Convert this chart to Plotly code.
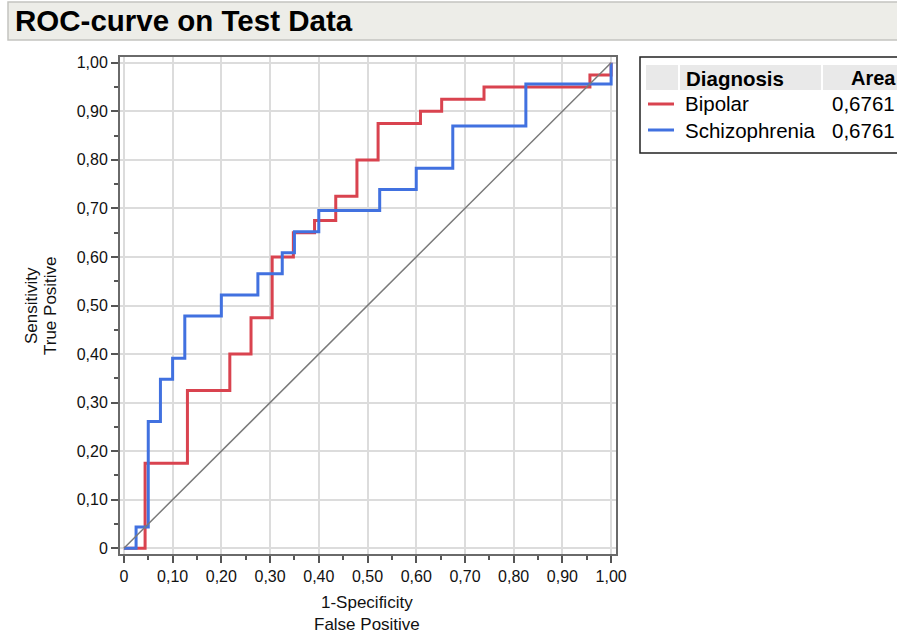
import plotly.graph_objects as go

# ---- data ----
tick_vals = [0.0, 0.1, 0.2, 0.3, 0.4, 0.5, 0.6, 0.7, 0.8, 0.9, 1.0]
tick_text = ["0", "0,10", "0,20", "0,30", "0,40", "0,50", "0,60", "0,70", "0,80", "0,90", "1,00"]

fpr_bipolar = [0, 0.0435, 0.1304, 0.2174, 0.2609, 0.3043, 0.3478, 0.3913, 0.4348, 0.4783,
               0.5217, 0.6087, 0.6522, 0.7391, 0.9565, 1.0]
tpr_bipolar = [0, 0.175, 0.325, 0.400, 0.475, 0.600, 0.650, 0.675, 0.725, 0.800,
               0.875, 0.900, 0.925, 0.950, 0.975, 1.0]

fpr_schizo = [0, 0.025, 0.05, 0.075, 0.1, 0.125, 0.2, 0.275, 0.325, 0.35, 0.4,
              0.525, 0.6, 0.675, 0.825, 1.0]
tpr_schizo = [0, 0.0435, 0.2609, 0.3478, 0.3913, 0.4783, 0.5217, 0.5652, 0.6087, 0.6522, 0.6957,
              0.7391, 0.7826, 0.8696, 0.9565, 1.0]

diag_x = [0, 1]
diag_y = [0, 1]

legend_names = ["Bipolar", "Schizophrenia"]
legend_areas = ["0,6761", "0,6761"]

title_text = "ROC-curve on Test Data"

RED = "#D9434F"
BLUE = "#4171E0"
FONT = "Liberation Sans, Arial, Helvetica, sans-serif"

W, H = 897, 634
ML, MR, MT, MB = 120, 281, 57, 80
PW = W - ML - MR
PH = H - MT - MB


def px(xp):
    return (xp - ML) / PW


def py(yp):
    return (H - MB - yp) / PH


fig = go.Figure()
fig.add_trace(go.Scatter(x=fpr_bipolar, y=tpr_bipolar, mode="lines", line_shape="hv",
                         line=dict(color=RED, width=3), name=legend_names[0]))
fig.add_trace(go.Scatter(x=fpr_schizo, y=tpr_schizo, mode="lines", line_shape="hv",
                         line=dict(color=BLUE, width=3), name=legend_names[1]))
fig.add_trace(go.Scatter(x=diag_x, y=diag_y, mode="lines",
                         line=dict(color="#7A7A7A", width=1.5), name="diag"))

axis_common = dict(
    tickvals=tick_vals, ticktext=tick_text,
    showgrid=True, gridcolor="#DCDCDC", gridwidth=1.5,
    showline=True, linecolor="#6A6A6A", linewidth=2, mirror=True,
    ticks="outside", ticklen=7, tickwidth=1.5, tickcolor="#555555",
    minor=dict(dtick=0.05, tick0=0, ticks="outside", ticklen=4, tickwidth=1.5,
               tickcolor="#555555", showgrid=False),
    tickfont=dict(family=FONT, size=16, color="#111111"),
    zeroline=False, fixedrange=True,
)

fig.update_layout(
    width=W, height=H,
    margin=dict(l=ML, r=MR, t=MT, b=MB, pad=0),
    paper_bgcolor="white", plot_bgcolor="white",
    showlegend=False,
    font=dict(family=FONT, color="#111111"),
    xaxis=dict(range=[-0.008, 1.010], **axis_common),
    yaxis=dict(range=[-0.012, 1.012], **axis_common),
)

shapes = []
annotations = []

# title bar
shapes.append(dict(type="rect", xref="paper", yref="paper",
                   x0=px(8), x1=px(905), y0=py(40), y1=py(2),
                   fillcolor="#EDEDE8", line=dict(color="#C4C4C0", width=1.5), layer="below"))
annotations.append(dict(text="<b>" + title_text + "</b>", xref="paper", yref="paper",
                        x=px(13), y=py(21), xanchor="left", yanchor="middle", showarrow=False,
                        font=dict(family=FONT, size=29.5, color="#000000")))

# axis titles
annotations.append(dict(text="1-Specificity", xref="paper", yref="paper",
                        x=px(367), y=py(602), xanchor="center", yanchor="middle", showarrow=False,
                        font=dict(family=FONT, size=17)))
annotations.append(dict(text="False Positive", xref="paper", yref="paper",
                        x=px(367), y=py(624), xanchor="center", yanchor="middle", showarrow=False,
                        font=dict(family=FONT, size=17)))
annotations.append(dict(text="Sensitivity", xref="paper", yref="paper", textangle=-90,
                        x=px(31), y=py(306), xanchor="center", yanchor="middle", showarrow=False,
                        font=dict(family=FONT, size=17)))
annotations.append(dict(text="True Positive", xref="paper", yref="paper", textangle=-90,
                        x=px(50), y=py(306), xanchor="center", yanchor="middle", showarrow=False,
                        font=dict(family=FONT, size=17)))

# legend box
shapes.append(dict(type="rect", xref="paper", yref="paper",
                   x0=px(640), x1=px(910), y0=py(153), y1=py(57),
                   fillcolor="white", line=dict(color="#222222", width=1.5), layer="below"))
for x0, x1 in [(646, 678), (680, 821), (823, 910)]:
    shapes.append(dict(type="rect", xref="paper", yref="paper",
                       x0=px(x0), x1=px(x1), y0=py(90), y1=py(65),
                       fillcolor="#E9E9E9", line=dict(width=0), layer="below"))
annotations.append(dict(text="<b>Diagnosis</b>", xref="paper", yref="paper",
                        x=px(684), y=py(78), xanchor="left", yanchor="middle", showarrow=False,
                        font=dict(family=FONT, size=20.5, color="#000000")))
annotations.append(dict(text="<b>Area</b>", xref="paper", yref="paper",
                        x=px(849), y=py(78), xanchor="left", yanchor="middle", showarrow=False,
                        font=dict(family=FONT, size=20, color="#000000")))
row_y = [104, 130]
for name, area, color, yy in zip(legend_names, legend_areas, [RED, BLUE], row_y):
    shapes.append(dict(type="line", xref="paper", yref="paper",
                       x0=px(648), x1=px(674), y0=py(yy), y1=py(yy),
                       line=dict(color=color, width=3)))
    annotations.append(dict(text=name, xref="paper", yref="paper",
                            x=px(683), y=py(yy), xanchor="left", yanchor="middle", showarrow=False,
                            font=dict(family=FONT, size=20.5, color="#000000")))
    annotations.append(dict(text=area, xref="paper", yref="paper",
                            x=px(830), y=py(yy), xanchor="left", yanchor="middle", showarrow=False,
                            font=dict(family=FONT, size=20.5, color="#000000")))

fig.update_layout(shapes=shapes, annotations=annotations)
fig.write_html("out.html")
